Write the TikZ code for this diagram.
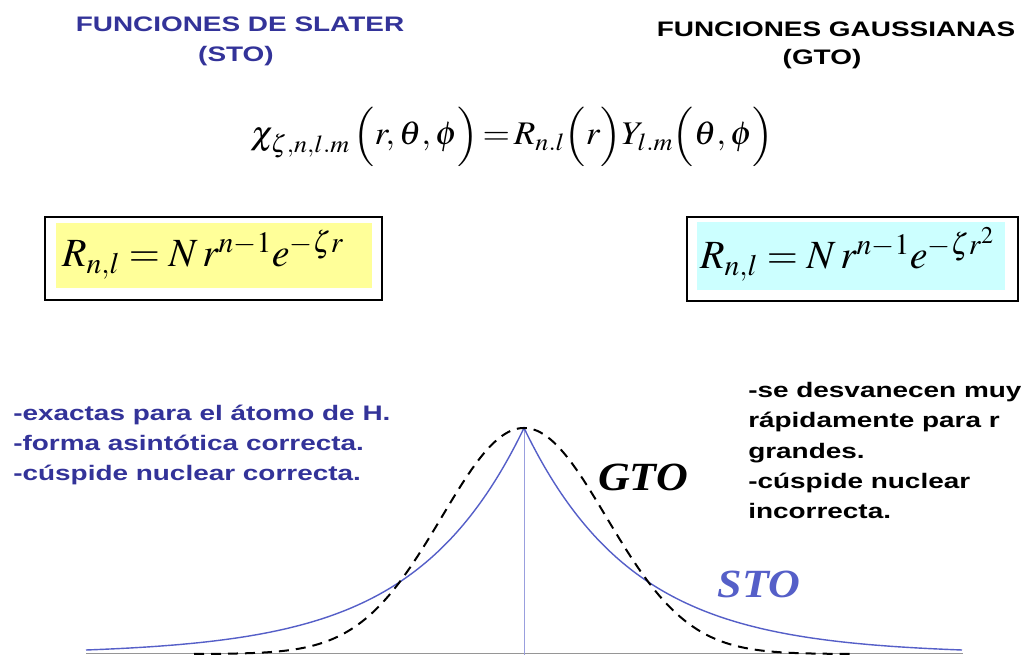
\documentclass[tikz,border=0pt]{standalone}
\usepackage{mathptmx}
\usepackage{fontspec}
\setmainfont{Liberation Sans}
\newfontfamily\labelfont{Liberation Serif}
\definecolor{slaterblue}{RGB}{51, 51, 153}
\definecolor{stoblue}{RGB}{85, 95, 200}
\definecolor{boxyellow}{RGB}{255, 255, 153}
\definecolor{boxcyan}{RGB}{204, 255, 255}
\definecolor{axisgray}{RGB}{150, 150, 150}

\tikzset{
    heading/.style={font=\bfseries\fontsize{21}{25}\selectfont, inner sep=0pt, anchor=base, xscale=1.33, transform shape},
    remark/.style={font=\bfseries\fontsize{21}{25}\selectfont, inner sep=0pt, anchor=base west, xscale=1.33, transform shape},
    formula/.style={inner sep=0pt, anchor=base},
    curvelabel/.style={font=\labelfont\bfseries\itshape\fontsize{40}{44}\selectfont, inner sep=0pt, anchor=base, xscale=1.1, transform shape}
}

\begin{document}
\begin{tikzpicture}[x=1pt, y=-1pt]
            \useasboundingbox[fill=white] (0,0) rectangle (1029,655);

            % Headings
            \node[heading, slaterblue] (slater) at (240, 32) {FUNCIONES DE SLATER};
            \node[heading, slaterblue] (slatershort) at (236, 62) {(STO)};
            \node[heading] (gauss) at (836, 37) {FUNCIONES GAUSSIANAS};
            \node[heading] (gaussshort) at (822, 65) {(GTO)};

            % Orbital
            \node[formula, xscale=1.07, transform shape, font=\fontsize{33}{40}\selectfont] (orbital) at (512, 145)
                {$\chi_{\zeta,n,l.m}\mkern2mu\Bigl(r,\theta,\phi\Bigr)\!=\!R_{n.l}\Bigl(r\Bigr)Y_{l.m}\Bigl(\theta,\phi\Bigr)$};

            % STO box
            \draw[line width=1.2pt] (45,217) rectangle (382,300);
            \fill[boxyellow] (56,223) rectangle (372,288);
            \node[formula, anchor=base west, font=\fontsize{40}{46}\selectfont] (stoform) at (62, 267)
                {$R_{n,l}=N\,r^{n-1}e^{-\zeta r}$};

            % GTO box
            \draw[line width=1.2pt] (687,217) rectangle (1018,301);
            \fill[boxcyan] (697,222) rectangle (1005,290);
            \node[formula, anchor=base west, font=\fontsize{40}{46}\selectfont] (gtoform) at (700, 269)
                {$R_{n,l}=N\,r^{n-1}e^{-\zeta r^{2}}$};

            % Remarks STO
            \node[remark, slaterblue] (stoa) at (13, 420) {-exactas para el átomo de H.};
            \node[remark, slaterblue] (stob) at (13, 450) {-forma asintótica correcta.};
            \node[remark, slaterblue] (stoc) at (13, 480) {-cúspide nuclear correcta.};

            % Remarks GTO
            \node[remark] (gtoa) at (748, 397) {-se desvanecen muy};
            \node[remark] (gtob) at (748, 427) {rápidamente para r};
            \node[remark] (gtoc) at (748, 458) {grandes.};
            \node[remark] (gtod) at (748, 488) {-cúspide nuclear};
            \node[remark] (gtoe) at (748, 518) {incorrecta.};

            % Axes
            \draw[axisgray, line width=1pt] (86,653) -- (963,653);
            \draw[stoblue!60, line width=0.6pt] (524,428) -- (524,655);

            % Curves
            \draw[stoblue, line width=1.4pt, domain=-438:438, samples=301]
                plot ({524+\x}, {654-226*exp(-0.0092*abs(\x))});
            \draw[black, dash pattern=on 10pt off 7pt, line width=2pt, domain=-330:330, samples=201]
                plot ({524+\x}, {654-226*exp(-0.74*(\x/100)*(\x/100))});

            % Curve labels
            \node[curvelabel] (gtolabel) at (643, 490) {GTO};
            \node[curvelabel, stoblue] (stolabel) at (759, 597) {STO};
        \end{tikzpicture}
\end{document}
